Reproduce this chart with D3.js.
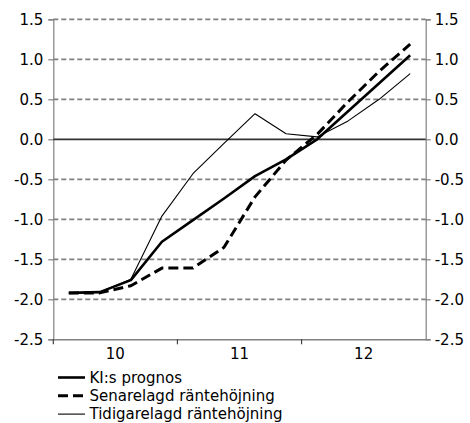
<!DOCTYPE html>
<html>
<head>
<meta charset="utf-8">
<script src="https://cdn.jsdelivr.net/npm/d3@7"></script>
<style>
  body { margin: 0; background: #fff; }
  svg { display: block; font-family: "DejaVu Sans", Verdana, sans-serif; }
</style>
</head>
<body>
<div id="chart"></div>
<script>
// Quarters 2010-2012, three year bands on the x axis.
const quarters = ['10K1', '10K2', '10K3', '10K4', '11K1', '11K2', '11K3', '11K4', '12K1', '12K2', '12K3', '12K4'];
const years = ['10', '11', '12'];
const yTicks = [-2.5, -2.0, -1.5, -1.0, -0.5, 0.0, 0.5, 1.0, 1.5];

const kiPrognos = [-1.92, -1.91, -1.76, -1.28, -1.01, -0.74, -0.46, -0.25, 0.0, 0.35, 0.70, 1.05];
const senarelagd = [-1.92, -1.92, -1.83, -1.61, -1.61, -1.35, -0.72, -0.26, 0.06, 0.47, 0.85, 1.19];
const tidigarelagd = [-1.92, -1.91, -1.75, -0.96, -0.43, -0.05, 0.32, 0.07, 0.03, 0.23, 0.50, 0.82];

const series = [
    {name: 'KI:s prognos', values: kiPrognos, width: 2.6, dash: null},
    {name: 'Senarelagd räntehöjning', values: senarelagd, width: 3, dash: '10,5'},
    {name: 'Tidigarelagd räntehöjning', values: tidigarelagd, width: 1.1, dash: null}
];

const W = 470, H = 423;
const margin = {top: 19.3, right: 44.3, bottom: 83.7, left: 53.3};
const width = W - margin.left - margin.right;
const height = H - margin.top - margin.bottom;

const svg = d3.select('#chart')
    .append('svg')
        .attr('width', W)
        .attr('height', H)
        .append('g')
            .attr('transform', `translate(${margin.left},${margin.top})`);

// Scales.
const x = d3.scaleBand().domain(quarters).range([0, width]);
const xYear = d3.scaleBand().domain(years).range([0, width]);
const y = d3.scaleLinear().domain([-2.5, 1.5]).range([height, 0]);

// Dashed gridlines.
svg.append('g')
    .selectAll('line')
    .data(yTicks.filter(v => v !== 0 && v !== -2.5))
    .enter()
    .append('line')
        .attr('x1', 0)
        .attr('x2', width)
        .attr('y1', d => y(d))
        .attr('y2', d => y(d))
        .attr('stroke', '#808080')
        .attr('stroke-width', 1.8)
        .attr('stroke-dasharray', '5,3');

// Y axes, left and right (plain hyphen as minus sign, like the original).
const fmt = d => d.toFixed(1);
const yLeft = svg.append('g')
    .style('font-size', '15px')
    .call(d3.axisLeft(y).tickValues(yTicks).tickFormat(fmt).tickSize(5).tickPadding(5));
const yRight = svg.append('g')
    .attr('transform', `translate(${width},0)`)
    .style('font-size', '15px')
    .call(d3.axisRight(y).tickValues(yTicks).tickFormat(fmt).tickSize(5).tickPadding(4));
[yLeft, yRight].forEach(g => {
    g.select('.domain').attr('stroke', '#808080').attr('stroke-width', 1.2);
    g.selectAll('.tick line').attr('stroke', '#808080').attr('stroke-width', 1.2);
    g.selectAll('text').attr('fill', '#000').style('font-family', '"DejaVu Sans", Verdana, sans-serif');
});

// X axis: year labels, ticks at the year boundaries.
const xGroup = svg.append('g')
    .attr('transform', `translate(0,${height})`)
    .style('font-size', '15px')
    .call(d3.axisBottom(xYear).tickSize(0).tickPadding(9));
xGroup.select('.domain').attr('stroke', '#808080').attr('stroke-width', 1.5);
xGroup.selectAll('text').attr('fill', '#000').style('font-family', '"DejaVu Sans", Verdana, sans-serif');
xGroup.selectAll('.boundary')
    .data(years)
    .enter()
    .append('line')
        .attr('x1', d => xYear(d))
        .attr('x2', d => xYear(d))
        .attr('y1', 0)
        .attr('y2', 5)
        .attr('stroke', '#404040')
        .attr('stroke-width', 1.2);

// Zero line.
svg.append('line')
    .attr('x1', 0)
    .attr('x2', width)
    .attr('y1', y(0))
    .attr('y2', y(0))
    .attr('stroke', '#333')
    .attr('stroke-width', 1.8);

// The lines.
const line = d3.line()
    .x((d, i) => x(quarters[i]) + x.bandwidth() / 2)
    .y(d => y(d));
svg.selectAll('.series')
    .data(series)
    .enter()
    .append('path')
        .attr('d', d => line(d.values))
        .attr('fill', 'none')
        .attr('stroke', '#000')
        .attr('stroke-width', d => d.width)
        .attr('stroke-dasharray', d => d.dash)
        .attr('stroke-linejoin', 'round');

// Legend below the chart.
const legend = d3.select('svg')
    .append('g')
    .attr('transform', 'translate(58,377.5)');
const rows = legend.selectAll('g')
    .data(series)
    .enter()
    .append('g')
        .attr('transform', (d, i) => `translate(0,${i * 18.3})`);
rows.append('line')
    .attr('x1', 0)
    .attr('x2', 27)
    .attr('y1', 0)
    .attr('y2', 0)
    .attr('stroke', '#000')
    .attr('stroke-width', d => d.width)
    .attr('stroke-dasharray', d => d.dash);
rows.append('text')
    .attr('x', 31.5)
    .attr('y', 5)
    .style('font-size', '15px')
    .text(d => d.name);
</script>
</body>
</html>
